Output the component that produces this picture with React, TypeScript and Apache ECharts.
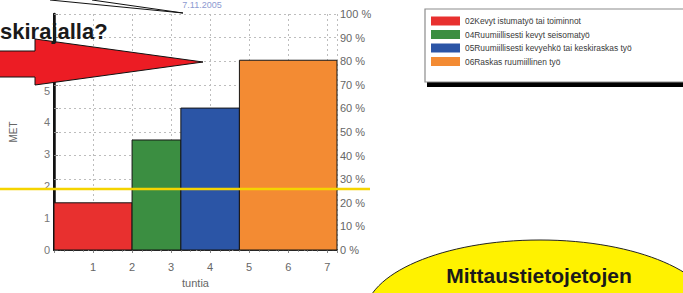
import React, { useEffect, useRef } from 'react';
import * as echarts from 'echarts';

const categories = [
  '02Kevyt istumatyö tai toiminnot',
  '04Ruumiillisesti kevyt seisomatyö',
  '05Ruumiillisesti kevyehkö tai keskiraskas työ',
  '06Raskas ruumiillinen työ',
];
const startHours = [0, 2, 3.25, 4.75];
const endHours = [2, 3.25, 4.75, 7.25];
const metValues = [1.48, 3.45, 4.45, 5.95];
const barColors = ['#e8302f', '#3b8e41', '#2b55a6', '#f38b33'];
const metMax = 7.4;
const hourMax = 7.25;
const percentTicks = { min: 0, max: 100, interval: 10 };

const FONT = "'Liberation Sans', Arial, sans-serif";

export default function App() {
  const ref = useRef<HTMLDivElement>(null);
  useEffect(() => {
    if (!ref.current) return;
    const chart = echarts.init(ref.current, null, { renderer: 'svg' });
    const series = categories.map((name, i) => ({
      name,
      type: 'custom',
      xAxisIndex: 0,
      yAxisIndex: 0,
      itemStyle: { color: barColors[i] },
      encode: { x: [0, 1], y: 2 },
      data: [[startHours[i], endHours[i], metValues[i]]],
      renderItem: (params: any, api: any) => {
        const x0 = api.value(0);
        const x1 = api.value(1);
        const v = api.value(2);
        const p0 = api.coord([x0, v]);
        const p1 = api.coord([x1, 0]);
        return {
          type: 'rect',
          shape: { x: p0[0], y: p0[1], width: p1[0] - p0[0], height: p1[1] - p0[1] },
          style: { fill: api.visual('color'), stroke: '#151515', lineWidth: 1 },
        };
      },
    }));
    chart.setOption({
      animation: false,
      backgroundColor: '#ffffff',
      textStyle: { fontFamily: FONT },
      grid: { left: 54, right: 346, top: 14, bottom: 38 },
      legend: {
        orient: 'vertical',
        left: 431,
        top: 16,
        padding: 0,
        icon: 'rect',
        itemWidth: 29,
        itemHeight: 9,
        itemGap: 3.5,
        data: categories,
        selectedMode: false,
        textStyle: { fontFamily: FONT, fontSize: 8.4, color: '#3a3a3a', lineHeight: 10 },
      },
      xAxis: [
        {
          type: 'value',
          min: 0,
          max: hourMax,
          interval: 1,
          position: 'bottom',
          name: 'tuntia',
          nameLocation: 'middle',
          nameGap: 27,
          nameTextStyle: { fontSize: 11, color: '#666' },
          axisLine: { show: true, lineStyle: { color: '#111', width: 1.5, type: 'dashed' } },
          axisTick: { show: true, length: 3, lineStyle: { color: '#888' } },
          minorTick: { show: true, splitNumber: 4, length: 2, lineStyle: { color: '#aaa' } },
          axisLabel: {
            fontSize: 11,
            color: '#666',
            margin: 11,
            formatter: (v: number) => (Number.isInteger(v) && v > 0 ? String(v) : ''),
          },
          splitLine: { show: true, lineStyle: { color: '#bdbdbd', type: [2, 3], width: 1 } },
        },
        {
          type: 'value',
          min: 0,
          max: hourMax,
          position: 'top',
          axisLine: { show: true, lineStyle: { color: '#333', width: 1.2, type: 'dashed' } },
          axisTick: { show: false },
          axisLabel: { show: false },
          splitLine: { show: false },
        },
      ],
      yAxis: [
        {
          type: 'value',
          min: 0,
          max: metMax,
          interval: 1,
          position: 'left',
          name: 'MET',
          nameLocation: 'middle',
          nameGap: 36,
          nameTextStyle: { fontSize: 10, color: '#666' },
          axisLine: { show: true, lineStyle: { color: '#111', width: 2.5 } },
          axisTick: { show: false },
          axisLabel: {
            fontSize: 11,
            color: '#777',
            margin: 4,
            formatter: (v: number) => (Number.isInteger(v) && v <= 5 ? String(v) : ''),
          },
          splitLine: { show: false },
        },
        {
          type: 'value',
          min: percentTicks.min,
          max: percentTicks.max,
          interval: percentTicks.interval,
          position: 'right',
          axisLine: { show: true, lineStyle: { color: '#111', width: 2 } },
          axisTick: { show: true, length: 4, lineStyle: { color: '#888' } },
          axisLabel: { fontSize: 11, color: '#666', margin: 3, formatter: '{value} %' },
          splitLine: { show: true, lineStyle: { color: '#bdbdbd', type: [2, 3], width: 1 } },
        },
      ],
      graphic: [
        // legend frame
        { type: 'rect', z: 1, shape: { x: 427, y: 81, width: 270, height: 6 }, style: { fill: '#000' } },
        { type: 'rect', z: 1, shape: { x: 425, y: 9, width: 270, height: 73 }, style: { fill: '#fff', stroke: '#8c8c8c', lineWidth: 1.2 } },
        // callout lines at top
        { type: 'polyline', z: 10, shape: { points: [[50, 0], [183, 13], [92, 0]] }, style: { stroke: '#111', lineWidth: 1, fill: 'none' } },
        {
          type: 'text', z: 10, x: 202, y: 0,
          style: { text: '7.11.2005', fill: '#8d9ad0', fontSize: 9, fontFamily: FONT, align: 'center', verticalAlign: 'top' },
        },
        // red arrow
        {
          type: 'polygon', z: 10,
          shape: { points: [[-2, 51], [35, 51], [35, 39], [203, 62], [35, 85], [35, 77], [-2, 77]] },
          style: { fill: '#ec1c24', stroke: '#111', lineWidth: 1 },
        },
        {
          type: 'text', z: 11, x: 0, y: 31,
          style: { text: 'skirajalla?', fill: '#1a1a1a', fontSize: 22, fontWeight: 'bold', fontFamily: FONT, verticalAlign: 'middle' },
        },
        // yellow line
        { type: 'line', z: 10, shape: { x1: 0, y1: 189, x2: 370, y2: 189 }, style: { stroke: '#f5d400', lineWidth: 2.5 } },
        // yellow ellipse
        { type: 'ellipse', z: 10, shape: { cx: 540, cy: 315, rx: 175, ry: 75 }, style: { fill: '#fff200', stroke: '#222', lineWidth: 1 } },
        {
          type: 'text', z: 11, x: 539, y: 275,
          style: { text: 'Mittaustietojetojen', fill: '#1a1a1a', fontSize: 21, fontWeight: 'bold', fontFamily: FONT, align: 'center', verticalAlign: 'middle' },
        },
      ],
      series,
    });
    return () => chart.dispose();
  }, []);
  return <div ref={ref} style={{ position: 'absolute', left: 0, top: 0, width: 683, height: 293 }} />;
}
